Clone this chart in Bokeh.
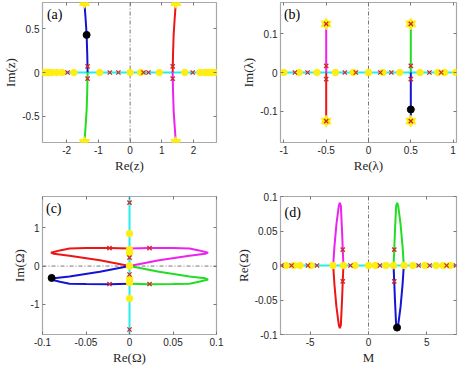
from bokeh.plotting import figure
from bokeh.layouts import gridplot
from bokeh.models import Range1d, FixedTicker, CustomJSTickFormatter, Span, Label, LinearAxis
from bokeh.embed import file_html
from bokeh.resources import INLINE

# ---------------- data ----------------
# panel (a): z-plane
A_XTICKS = [-2, -1, 0, 1, 2]
A_XLABELS = ["-2", "-1", "0", "1", "2"]
A_YTICKS = [-0.5, 0, 0.5]
A_YLABELS = ["-0.5", "0", "0.5"]
A_BRANCH_UP_Y = [0.0, 0.2, 0.43, 0.6, 0.8]
A_BRANCH_DN_Y = [0.0, -0.2, -0.43, -0.6, -0.8]
A_LEFT_X = [-1.34, -1.35, -1.37, -1.40, -1.44]
A_RIGHT_X = [1.34, 1.35, 1.37, 1.40, 1.44]
A_AXIS_DOTS = [-2.72, -2.67, -2.62, -2.57, -2.52, -2.47, -2.31, -2.14, -1.77, -0.96, 0.0,
               0.33, 0.92, 1.72, 2.2, 2.35, 2.45, 2.5, 2.55, 2.6, 2.65, 2.7]
A_AXIS_CROSSES = [-1.97, -0.64, -0.37, 0.42, 0.58, 1.97]
A_BRANCH_CROSS_X = [-1.34, -1.34, 1.34, 1.34]
A_BRANCH_CROSS_Y = [0.07, -0.07, 0.07, -0.07]
A_STAR_X = [-1.44, -1.44, 1.44, 1.44]
A_STAR_Y = [0.8, -0.8, 0.8, -0.8]
A_BLACK_X = [-1.37]
A_BLACK_Y = [0.43]

# panel (b): lambda-plane
B_XTICKS = [-1, -0.5, 0, 0.5, 1]
B_XLABELS = ["-1", "-0.5", "0", "0.5", "1"]
B_YTICKS = [-0.1, 0, 0.1]
B_YLABELS = ["-0.1", "0", "0.1"]
B_LEFT_X = [-0.5, -0.5]
B_RIGHT_X = [0.5, 0.5]
B_UP_Y = [0.0, 0.125]
B_DN_Y = [0.0, -0.125]
B_AXIS_DOTS = [-1.0, -0.82, -0.61, -0.39, -0.18, 0.0, 0.17, 0.37, 0.61, 0.82, 0.9, 1.03]
B_AXIS_CROSSES = [-0.87, -0.72, -0.28, -0.15, 0.14, 0.27, 0.72, 0.86]
B_BRANCH_CROSS_X = [-0.5, -0.5, 0.5, 0.5, -0.5, -0.5, 0.5, 0.5]
B_BRANCH_CROSS_Y = [0.017, -0.017, 0.017, -0.017, 0.125, -0.125, 0.125, -0.125]
B_STAR_X = [-0.5, -0.5, 0.5, 0.5]
B_STAR_Y = [0.125, -0.125, 0.125, -0.125]
B_BLACK_X = [0.5]
B_BLACK_Y = [-0.095]

# panel (c): Omega-plane
C_XTICKS = [-0.1, -0.05, 0, 0.05, 0.1]
C_XLABELS = ["-0.1", "-0.05", "0", "0.05", "0.1"]
C_YTICKS = [-1, 0, 1]
C_YLABELS = ["-1", "0", "1"]
C_LOOP_L_X = [0.0, -0.023, -0.05, -0.069, -0.08, -0.087, -0.0903, -0.087, -0.069, -0.034, 0.0]
C_LOOP_R_X = [0.0, 0.023, 0.05, 0.069, 0.08, 0.087, 0.0903, 0.087, 0.069, 0.034, 0.0]
C_LOOP_UP_Y = [0.46, 0.475, 0.47, 0.46, 0.41, 0.37, 0.35, 0.32, 0.27, 0.15, 0.0]
C_LOOP_DN_Y = [-0.46, -0.475, -0.47, -0.46, -0.41, -0.37, -0.35, -0.32, -0.27, -0.15, 0.0]
C_AXIS_DOTS = [0.85, 0.43, 0.33, 0.0, -0.33, -0.43, -0.85]
C_AXIS_CROSSES = [1.66, 0.22, -0.22, -1.66]
C_LOOP_CROSS_X = [-0.023, 0.023, -0.023, 0.023]
C_LOOP_CROSS_Y = [0.47, 0.47, -0.47, -0.47]
C_BLACK_X = [-0.0895]
C_BLACK_Y = [-0.31]

# panel (d): Re(Omega) vs M
D_XTICKS = [-5, 0, 5]
D_XLABELS = ["-5", "0", "5"]
D_YTICKS = [-0.1, -0.05, 0, 0.05, 0.1]
D_YLABELS = ["-0.1", "-0.05", "0", "0.05", "0.1"]
D_LOOP_L_X = [-3.03, -2.92, -2.75, -2.55, -2.46, -2.37, -2.27, -2.21, -2.15]
D_LOOP_R_X = [3.03, 2.92, 2.75, 2.55, 2.46, 2.37, 2.27, 2.21, 2.15]
D_LOOP_UP_Y = [0.0, 0.028, 0.06, 0.086, 0.091, 0.086, 0.05, 0.024, 0.0]
D_LOOP_DN_Y = [0.0, -0.028, -0.06, -0.086, -0.091, -0.086, -0.05, -0.024, 0.0]
D_AXIS_DOTS = [-7.07, -6.4, -5.87, -4.93, -3.05, -2.15, -1.15, 0.0, 0.6, 1.5, 2.15, 3.05,
               3.8, 4.85, 5.8, 6.4, 7.0]
D_AXIS_CROSSES = [-7.47, -6.6, -5.2, -4.42, -1.55, 0.98, 4.3, 5.25, 6.7, 7.5]
D_LOOP_CROSS_X = [-2.21, -2.21, 2.21, 2.21]
D_LOOP_CROSS_Y = [0.023, -0.023, 0.023, -0.023]
D_BLACK_X = [2.45]
D_BLACK_Y = [-0.09]

# ---------------- style ----------------
BLUE = "#1414d2"
RED = "#ee1515"
GREEN = "#22dd22"
MAGENTA = "#ee22ee"
CYAN = "#22eeee"
YELLOW = "#ffee11"
XRED = "#cc2a2a"
FRAME = "#a8a8a8"
TXT = "#262626"
SANS = "Liberation Sans"
SERIF = "Liberation Serif"
LW = 2


def fmt(ticks, labels):
    return CustomJSTickFormatter(
        args=dict(vals=ticks, labels=labels),
        code="const i = vals.findIndex(v => Math.abs(v - tick) < 1e-9); return i >= 0 ? labels[i] : '';")


def make_fig(w, h, xr, yr, bl, br, bt, bb, xt, xl, yt, yl, xlabel, ylabel):
    p = figure(width=w, height=h, x_range=Range1d(*xr), y_range=Range1d(*yr),
               output_backend="svg", toolbar_location=None,
               min_border_left=bl, min_border_right=br, min_border_top=bt, min_border_bottom=bb,
               x_axis_label=xlabel, y_axis_label=ylabel)
    p.xgrid.visible = False
    p.ygrid.visible = False
    p.outline_line_color = FRAME
    p.outline_line_width = 1.2
    p.background_fill_color = "white"
    p.border_fill_color = "white"
    for ax, ticks, labels in ((p.xaxis[0], xt, xl), (p.yaxis[0], yt, yl)):
        ax.ticker = FixedTicker(ticks=ticks)
        ax.formatter = fmt(ticks, labels)
        ax.axis_line_color = None
        ax.major_tick_line_color = "#777777"
        ax.major_tick_in = 3
        ax.major_tick_out = 0
        ax.minor_tick_line_color = None
        ax.major_label_text_font = SANS
        ax.major_label_text_font_size = "10px"
        ax.major_label_text_color = TXT
        ax.major_label_standoff = 3
        ax.axis_label_text_font = SERIF
        ax.axis_label_text_font_size = "13px"
        ax.axis_label_text_font_style = "normal"
        ax.axis_label_text_color = TXT
        ax.axis_label_standoff = 1
    for loc, ticks in (("above", xt), ("right", yt)):
        ax = LinearAxis(ticker=FixedTicker(ticks=ticks),
                        formatter=CustomJSTickFormatter(code="return ''"))
        ax.axis_line_color = None
        ax.major_tick_line_color = "#777777"
        ax.major_tick_in = 3
        ax.major_tick_out = 0
        ax.minor_tick_line_color = None
        ax.major_label_standoff = 0
        p.add_layout(ax, loc)
    return p


def dashdot(p, dim):
    p.add_layout(Span(location=0, dimension=dim, line_color="#555555", line_width=0.8,
                      line_dash="4 2 1 2", level="underlay"))


def hexagram(p, xs, ys, size=10):
    p.scatter(xs, ys, marker="triangle", size=size, fill_color=YELLOW, line_color=YELLOW)
    p.scatter(xs, ys, marker="inverted_triangle", size=size, fill_color=YELLOW, line_color=YELLOW)


def dots(p, xs, ys):
    p.scatter(xs, ys, marker="circle", size=6.5, fill_color=YELLOW, line_color=YELLOW)


def crosses(p, xs, ys):
    p.scatter(xs, ys, marker="x", size=6, line_color=XRED, line_width=1.3)


def black(p, xs, ys):
    p.scatter(xs, ys, marker="circle", size=7, fill_color="black", line_color="black")


def tag(p, x, y, t):
    p.add_layout(Label(x=x, y=y, text=t, text_font=SERIF, text_font_size="14px",
                       text_color="black", text_baseline="middle"))


# ---------------- panel (a) ----------------
AX = (-2.76, 2.72)
AY = (-0.8, 0.8)
pa = make_fig(232, 187, AX, AY, 34, 16, 2, 45, A_XTICKS, A_XLABELS, A_YTICKS, A_YLABELS,
              "Re(z)", "Im(z)")
dashdot(pa, "height")
pa.line(list(AX), [0, 0], line_color=CYAN, line_width=LW)
pa.line(A_LEFT_X, A_BRANCH_UP_Y, line_color=BLUE, line_width=LW)
pa.line(A_LEFT_X, A_BRANCH_DN_Y, line_color=GREEN, line_width=LW)
pa.line(A_RIGHT_X, A_BRANCH_UP_Y, line_color=RED, line_width=LW)
pa.line(A_RIGHT_X, A_BRANCH_DN_Y, line_color=MAGENTA, line_width=LW)
dots(pa, A_AXIS_DOTS, [0] * len(A_AXIS_DOTS))
crosses(pa, A_AXIS_CROSSES, [0] * len(A_AXIS_CROSSES))
crosses(pa, A_BRANCH_CROSS_X, A_BRANCH_CROSS_Y)
hexagram(pa, A_STAR_X, A_STAR_Y)
black(pa, A_BLACK_X, A_BLACK_Y)
tag(pa, -2.62, 0.66, "(a)")

# ---------------- panel (b) ----------------
BX = (-1.04, 1.04)
BY = (-0.18, 0.18)
pb = make_fig(226, 187, BX, BY, 40, 2, 2, 45, B_XTICKS, B_XLABELS, B_YTICKS, B_YLABELS,
              "Re(λ)", "Im(λ)")
dashdot(pb, "height")
pb.line(list(BX), [0, 0], line_color=CYAN, line_width=LW)
pb.line(B_LEFT_X, B_UP_Y, line_color=MAGENTA, line_width=LW)
pb.line(B_LEFT_X, B_DN_Y, line_color=RED, line_width=LW)
pb.line(B_RIGHT_X, B_UP_Y, line_color=GREEN, line_width=LW)
pb.line(B_RIGHT_X, B_DN_Y, line_color=BLUE, line_width=LW)
dots(pb, B_AXIS_DOTS, [0] * len(B_AXIS_DOTS))
crosses(pb, B_AXIS_CROSSES, [0] * len(B_AXIS_CROSSES))
hexagram(pb, B_STAR_X, B_STAR_Y)
crosses(pb, B_BRANCH_CROSS_X, B_BRANCH_CROSS_Y)
black(pb, B_BLACK_X, B_BLACK_Y)
tag(pb, -1.0, 0.15, "(b)")

# ---------------- panel (c) ----------------
CX = (-0.1, 0.1)
CY = (-1.79, 1.82)
pc = make_fig(232, 180, CX, CY, 34, 16, 9, 31, C_XTICKS, C_XLABELS, C_YTICKS, C_YLABELS,
              "Re(Ω)", "Im(Ω)")
dashdot(pc, "width")
pc.line([0, 0], list(CY), line_color=CYAN, line_width=LW)
pc.line(C_LOOP_L_X, C_LOOP_UP_Y, line_color=RED, line_width=LW)
pc.line(C_LOOP_R_X, C_LOOP_UP_Y, line_color=MAGENTA, line_width=LW)
pc.line(C_LOOP_L_X, C_LOOP_DN_Y, line_color=BLUE, line_width=LW)
pc.line(C_LOOP_R_X, C_LOOP_DN_Y, line_color=GREEN, line_width=LW)
dots(pc, [0] * len(C_AXIS_DOTS), C_AXIS_DOTS)
crosses(pc, [0] * len(C_AXIS_CROSSES), C_AXIS_CROSSES)
crosses(pc, C_LOOP_CROSS_X, C_LOOP_CROSS_Y)
black(pc, C_BLACK_X, C_BLACK_Y)
tag(pc, -0.096, 1.5, "(c)")

# ---------------- panel (d) ----------------
DX = (-7.55, 7.55)
DY = (-0.1, 0.1)
pd = make_fig(226, 180, DX, DY, 40, 2, 9, 31, D_XTICKS, D_XLABELS, D_YTICKS, D_YLABELS,
              "M", "Re(Ω)")
dashdot(pd, "height")
pd.line(list(DX), [0, 0], line_color=CYAN, line_width=LW)
pd.line(D_LOOP_L_X, D_LOOP_UP_Y, line_color=MAGENTA, line_width=LW)
pd.line(D_LOOP_L_X, D_LOOP_DN_Y, line_color=RED, line_width=LW)
pd.line(D_LOOP_R_X, D_LOOP_UP_Y, line_color=GREEN, line_width=LW)
pd.line(D_LOOP_R_X, D_LOOP_DN_Y, line_color=BLUE, line_width=LW)
dots(pd, D_AXIS_DOTS, [0] * len(D_AXIS_DOTS))
crosses(pd, D_AXIS_CROSSES, [0] * len(D_AXIS_CROSSES))
crosses(pd, D_LOOP_CROSS_X, D_LOOP_CROSS_Y)
black(pd, D_BLACK_X, D_BLACK_Y)
tag(pd, -7.2, 0.077, "(d)")

grid = gridplot([[pa, pb], [pc, pd]], toolbar_location=None)
open("out.html", "w").write(file_html(grid, INLINE))
